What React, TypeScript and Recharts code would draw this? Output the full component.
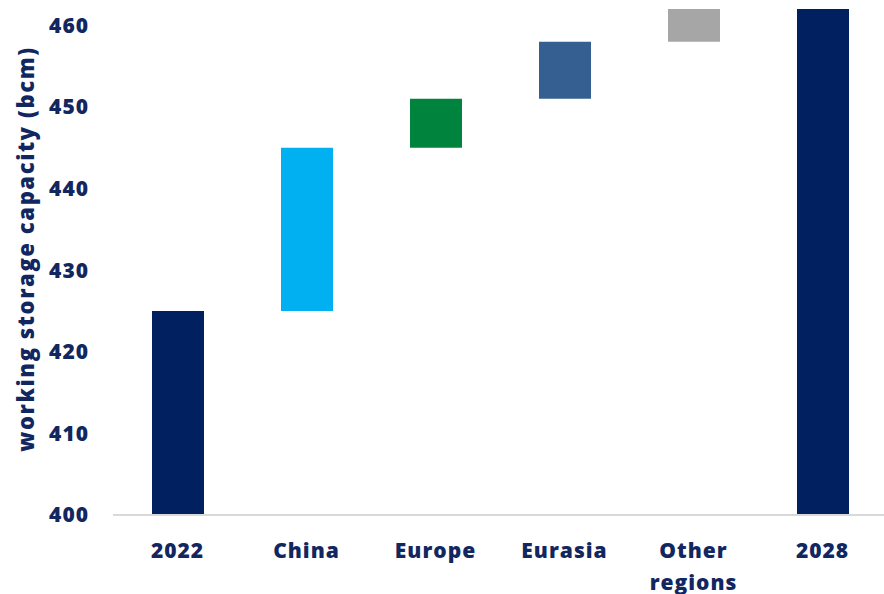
import React from "react";
import { BarChart, Bar, XAxis, YAxis, Cell } from "recharts";

const categories = ["2022", "China", "Europe", "Eurasia", "Other regions", "2028"];
const starts = [400, 425, 445, 451, 458, 400];
const ends = [425, 445, 451, 458, 462, 462];
const colors = ["#00205f", "#00b0f0", "#00843d", "#365f91", "#a6a6a6", "#00205f"];
const yTicks = [400, 410, 420, 430, 440, 450, 460];

const data = categories.map((c, i) => ({ name: c, range: [starts[i], ends[i]] }));

const TEXT = "#12275f";
const FONT = "'Open Sans', 'Noto Sans', sans-serif";

const XTick = (props: any) => {
  const { x, y, payload } = props;
  const words: string[] = payload.value === "Other regions" ? ["Other", "regions"] : [payload.value];
  return (
    <text x={x} y={y} textAnchor="middle" fill={TEXT} fontFamily={FONT} fontWeight={800} fontSize={21} letterSpacing={1}>
      {words.map((w, i) => (
        <tspan key={i} x={x} dy={i === 0 ? 35 : 32}>{w}</tspan>
      ))}
    </text>
  );
};

const YLabel = (props: any) => {
  const cy = 249;
  const cx = 25;
  return (
    <text
      x={cx}
      y={cy}
      transform={`rotate(-90, ${cx}, ${cy})`}
      textAnchor="middle"
      dominantBaseline="central"
      fill={TEXT}
      fontFamily={FONT}
      fontWeight={800}
      fontSize={22}
      letterSpacing={1.6}
    >
      working storage capacity (bcm)
    </text>
  );
};

export default function App() {
  return (
    <div style={{ position: "absolute", left: 0, top: 0, width: 884, height: 594, overflow: "hidden", background: "#fff" }}>
      <BarChart width={890} height={594} data={data} margin={{ top: 9, right: 3, bottom: 0, left: 0 }}>
        <XAxis
          dataKey="name"
          height={79}
          tickLine={false}
          axisLine={{ stroke: "#d9d9d9", strokeWidth: 2 }}
          tick={<XTick />}
          interval={0}
        />
        <YAxis
          width={113}
          domain={[400, 462]}
          ticks={yTicks}
          allowDataOverflow
          axisLine={false}
          tickLine={false}
          tickMargin={18}
          tick={{ fill: TEXT, fontFamily: FONT, fontWeight: 800, fontSize: 21, letterSpacing: 1 }}
          label={<YLabel />}
        />
        <Bar dataKey="range" barSize={52} isAnimationActive={false}>
          {data.map((d, i) => (
            <Cell key={d.name} fill={colors[i]} />
          ))}
        </Bar>
      </BarChart>
    </div>
  );
}
